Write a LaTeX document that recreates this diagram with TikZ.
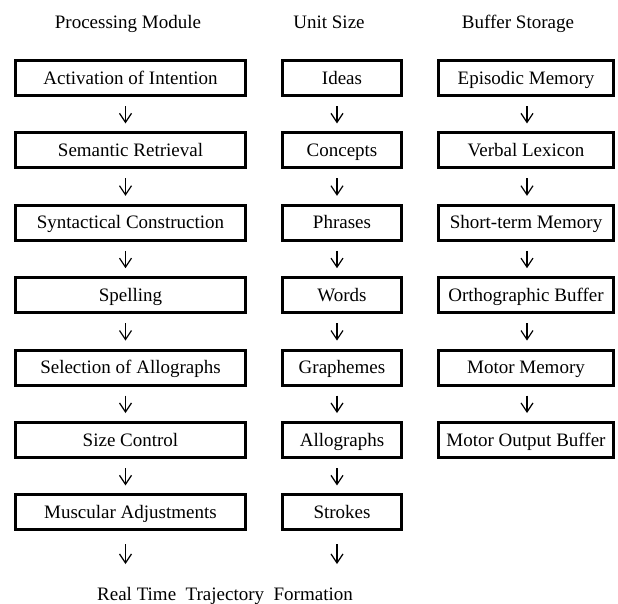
\documentclass[tikz,border=0pt]{standalone}
\usepackage{fontspec}
\setmainfont{Liberation Serif}
\usetikzlibrary{arrows.meta}
\begin{document}
\begin{tikzpicture}[x=1pt,y=-1pt,
  box/.style={draw, line width=3pt, minimum height=35pt, inner sep=0pt,
    text height=15pt, text depth=3pt,
    font=\fontsize{19}{22}\selectfont},
  boxa/.style={box, minimum width=230pt},
  boxb/.style={box, minimum width=119pt},
  boxc/.style={box, minimum width=175pt},
  arr/.style={-{Straight Barb[length=9pt,width=12pt,line width=1.2pt]}, line width=1.2pt,
    shorten <=9pt, shorten >=8pt},
  hdr/.style={font=\fontsize{19}{22}\selectfont, anchor=base, inner sep=0pt}]
\useasboundingbox (0,0) rectangle (618,603);

% headers
\node[hdr] (h1) at (128,28) {Processing Module};
\node[hdr] (h2) at (329,28) {Unit Size};
\node[hdr] (h3) at (518,28) {Buffer Storage};

% column 1
\node[boxa] (p1) at (130.5,78)    {Activation of Intention};
\node[boxa] (p2) at (130.5,150.4) {Semantic Retrieval};
\node[boxa] (p3) at (130.5,222.8) {Syntactical Construction};
\node[boxa] (p4) at (130.5,295.2) {Spelling};
\node[boxa] (p5) at (130.5,367.6) {Selection of Allographs};
\node[boxa] (p6) at (130.5,440)   {Size Control};
\node[boxa] (p7) at (130.5,512.4) {Muscular Adjustments};

% column 2
\node[boxb] (u1) at (342,78)    {Ideas};
\node[boxb] (u2) at (342,150.4) {Concepts};
\node[boxb] (u3) at (342,222.8) {Phrases};
\node[boxb] (u4) at (342,295.2) {Words};
\node[boxb] (u5) at (342,367.6) {Graphemes};
\node[boxb] (u6) at (342,440)   {Allographs};
\node[boxb] (u7) at (342,512.4) {Strokes};

% column 3
\node[boxc] (b1) at (526,78)    {Episodic Memory};
\node[boxc] (b2) at (526,150.4) {Verbal Lexicon};
\node[boxc] (b3) at (526,222.8) {Short-term Memory};
\node[boxc] (b4) at (526,295.2) {Orthographic Buffer};
\node[boxc] (b5) at (526,367.6) {Motor Memory};
\node[boxc] (b6) at (526,440)   {Motor Output Buffer};

% arrows
\foreach \c in {p,u}{
  \foreach \i [evaluate=\i as \j using int(\i+1)] in {1,...,6}{
    \draw[arr] ([xshift=-5pt]\c\i.south) -- ([xshift=-5pt]\c\j.north);
  }
}
\foreach \i [evaluate=\i as \j using int(\i+1)] in {1,...,5}{
  \draw[arr] ([xshift=1pt]b\i.south) -- ([xshift=1pt]b\j.north);
}

\coordinate (pe) at (125.5,564);
\coordinate (ue) at (337,564);
\draw[arr, shorten <=13pt, shorten >=0pt] ([xshift=-5pt]p7.south) -- (pe);
\draw[arr, shorten <=13pt, shorten >=0pt] ([xshift=-5pt]u7.south) -- (ue);

\node[hdr] (rt) at (225,600) {Real Time\ \ Trajectory\ \ Formation};
\end{tikzpicture}
\end{document}
